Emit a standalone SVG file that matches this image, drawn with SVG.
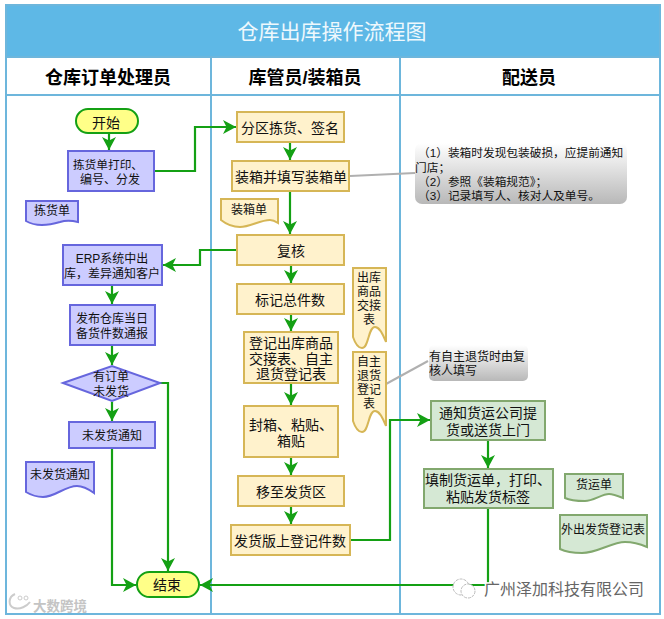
<svg xmlns="http://www.w3.org/2000/svg" width="664" height="619" viewBox="0 0 664 619">
<style>
text{font-family:"Liberation Sans","Noto Sans CJK SC",sans-serif;fill:#111;text-anchor:middle}
.t13{font-size:13px}.t14{font-size:14px}.t12{font-size:12px}.t117{font-size:11.7px}
.h{font-size:18px;font-weight:700;fill:#000}
.frame{fill:none;stroke:#6db6dc;stroke-width:2}
.y{fill:#fff2cc;stroke:#d6b656;stroke-width:2}
.b{fill:#ccccff;stroke:#6666dd;stroke-width:2}
.g{fill:#d5e8d4;stroke:#82a86e;stroke-width:2}
.s{fill:#ffff88;stroke:#14a014;stroke-width:2}
.c{fill:none;stroke:#14a014;stroke-width:2.2}
.n{fill:none;stroke:#b0b0b0;stroke-width:2}
.l{text-anchor:start}
</style>
<defs>
<marker id="a" markerUnits="userSpaceOnUse" markerWidth="15" markerHeight="15" refX="13" refY="7" orient="auto"><path d="M0 0L13 7L0 14L3.5 7Z" fill="#14a014"/></marker>
<linearGradient id="gr" x1="0" y1="0" x2="0" y2="1"><stop offset="0" stop-color="#ffffff"/><stop offset="1" stop-color="#b8b8b8"/></linearGradient>
</defs>
<rect width="664" height="619" fill="#fff"/>
<g id="frame">
<rect x="6" y="5" width="654" height="52" fill="#5eb8e6"/>
<rect x="6" y="5" width="654" height="609" class="frame"/>
<path class="frame" d="M6 57H660M6 95H660M211 57V614M400 57V614"/>
<text x="332" y="39" font-size="21" style="fill:#eef8fd">仓库出库操作流程图</text>
<text class="h" x="108" y="84">仓库订单处理员</text>
<text class="h" x="305" y="84">库管员/装箱员</text>
<text class="h" x="529" y="84">配送员</text>
</g>
<g id="connectors">
<path class="c" marker-end="url(#a)" d="M109 133V150"/>
<path class="c" marker-end="url(#a)" d="M154 171H195V127H236"/>
<path class="c" marker-end="url(#a)" d="M290 142V160"/>
<path class="c" marker-end="url(#a)" d="M290 191V234"/>
<path class="c" marker-end="url(#a)" d="M237 250H200V265H163"/>
<path class="c" marker-end="url(#a)" d="M112 285V304"/>
<path class="c" marker-end="url(#a)" d="M112 345V365"/>
<path class="c" marker-end="url(#a)" d="M112 402V421"/>
<path class="c" marker-end="url(#a)" d="M160 383H168V571"/>
<path class="c" marker-end="url(#a)" d="M112 448V585H136"/>
<path class="c" marker-end="url(#a)" d="M291 265V283"/>
<path class="c" marker-end="url(#a)" d="M291 314V331"/>
<path class="c" marker-end="url(#a)" d="M291 383V405"/>
<path class="c" marker-end="url(#a)" d="M291 457V475"/>
<path class="c" marker-end="url(#a)" d="M291 506V524"/>
<path class="c" marker-end="url(#a)" d="M350 540H390V420H430"/>
<path class="c" marker-end="url(#a)" d="M488 440V468"/>
<path class="c" marker-end="url(#a)" d="M488 508V585H200"/>
<path class="n" d="M350 176L415 173"/>
<path class="n" d="M386 384L428 361"/>
</g>
<g id="start"><rect class="s" x="76" y="109" width="62" height="24" rx="12"/><text class="t14" x="106" y="128">开始</text></g>
<g id="print"><rect class="b" x="68" y="151" width="86" height="40"/><text class="t117" x="108" y="169">拣货单打印、</text><text class="t12" x="110" y="184">编号、分发</text></g>
<g id="doc1"><path class="b" d="M26 201H78V222C70 220 66 220 60 222C50 225 36 227 26 221Z"/><text class="t12" x="52" y="215">拣货单</text></g>
<g id="erp"><rect class="b" x="63" y="245" width="99" height="40"/><text class="t12" x="112" y="263">ERP系统中出</text><text class="t12" x="112" y="278">库，差异通知客户</text></g>
<g id="publish"><rect class="b" x="70" y="305" width="85" height="40"/><text class="t12" x="112" y="323">发布仓库当日</text><text class="t12" x="112" y="338">备货件数通报</text></g>
<g id="decision"><path class="b" d="M63 383L112 366L160 383L112 401Z"/><text class="t12" x="111" y="381">有订单</text><text class="t12" x="111" y="396">未发货</text></g>
<g id="notice"><rect class="b" x="69" y="422" width="86" height="26"/><text class="t12" x="112" y="440">未发货通知</text></g>
<g id="doc2"><path class="b" d="M26 462H94V493C87 488 82 486 77 486C65 486 55 497 43 497C36 497 31 495 26 492Z"/><text class="t12" x="60" y="479">未发货通知</text></g>
<g id="end"><rect class="s" x="137" y="572" width="62" height="25" rx="12.5"/><text class="t14" x="167" y="590">结束</text></g>
<g id="pick"><rect class="y" x="237" y="112" width="107" height="30"/><text class="t14" x="290" y="133">分区拣货、签名</text></g>
<g id="pack"><rect class="y" x="232" y="161" width="117" height="30"/><text class="t14" x="291" y="182">装箱并填写装箱单</text></g>
<g id="doc3"><path class="y" d="M221 199H278V223C275 221 273 220 270 220C260 220 250 227 240 227C232 227 226 224 221 220Z"/><text class="t12" x="249" y="214">装箱单</text></g>
<g id="review"><rect class="y" x="237" y="235" width="107" height="30"/><text class="t14" x="291" y="256">复核</text></g>
<g id="mark"><rect class="y" x="237" y="284" width="107" height="30"/><text class="t14" x="290" y="305">标记总件数</text></g>
<g id="register"><rect class="y" x="244" y="332" width="94" height="51"/><text class="t14" x="291" y="348">登记出库商品</text><text class="t14" x="291" y="364">交接表、自主</text><text class="t14" x="291" y="379">退货登记表</text></g>
<g id="seal"><rect class="y" x="244" y="406" width="94" height="51"/><text class="t14" x="291" y="430">封箱、粘贴、</text><text class="t14" x="291" y="446">箱贴</text></g>
<g id="move"><rect class="y" x="238" y="476" width="106" height="30"/><text class="t14" x="291" y="497">移至发货区</text></g>
<g id="log"><rect class="y" x="231" y="525" width="119" height="30"/><text class="t14" x="290" y="546">发货版上登记件数</text></g>
<g id="doc4"><path class="y" d="M353 268H386V342C382 332 379 327 375 327C368 327 369 348 362 348C358 348 355 343 353 337Z"/><text class="t12" x="369" y="282">出库</text><text class="t12" x="369" y="296">商品</text><text class="t12" x="369" y="310">交接</text><text class="t12" x="369" y="324">表</text></g>
<g id="doc5"><path class="y" d="M353 352H386V426C382 416 379 411 375 411C368 411 369 432 362 432C358 432 355 427 353 421Z"/><text class="t12" x="369" y="366">自主</text><text class="t12" x="369" y="380">退货</text><text class="t12" x="369" y="394">登记</text><text class="t12" x="369" y="408">表</text></g>
<g id="note1"><rect x="415" y="143" width="212" height="61" rx="7" fill="url(#gr)"/><text class="t117 l" x="418" y="157">（1）装箱时发现包装破损，应提前通知</text><text class="t117 l" x="415" y="172">门店；</text><text class="t117 l" x="418" y="186">（2）参照《装箱规范》；</text><text class="t117 l" x="418" y="200">（3）记录填写人、核对人及单号。</text></g>
<g id="note2"><rect x="429" y="345" width="99" height="36" rx="5" fill="url(#gr)"/><text class="t12 l" x="429" y="361">有自主退货时由复</text><text class="t12 l" x="429" y="375">核人填写</text></g>
<g id="notify"><rect class="g" x="431" y="401" width="114" height="39"/><text class="t14" x="488" y="418">通知货运公司提</text><text class="t14" x="488" y="435">货或送货上门</text></g>
<g id="fill"><rect class="g" x="424" y="469" width="129" height="39"/><text class="t14" x="488" y="485">填制货运单，打印、</text><text class="t14" x="488" y="502">粘贴发货标签</text></g>
<g id="doc6"><path class="g" d="M565 474H623V498C618 496 613 494 609 494C602 494 593 501 585 501C578 501 571 501 565 498Z"/><text class="t12" x="594" y="489">货运单</text></g>
<g id="doc7"><path class="g" d="M560 515H647V547C640 544 632 542 625 542C612 542 597 553 582 553C573 553 566 552 560 549Z"/><text class="t12" x="603" y="534">外出发货登记表</text></g>
<g id="watermarks">
<text x="60" y="611" font-size="13.5" font-weight="700" style="fill:#c4c4c4">大数跨境</text>
<path d="M15 594C8 597 8 606 14 608C20 610 27 606 30 602" fill="none" stroke="#ccc" stroke-width="2"/><circle cx="20" cy="598" r="2" fill="none" stroke="#ccc"/><circle cx="26" cy="598" r="2" fill="none" stroke="#ccc"/>
<circle cx="461" cy="587" r="8" fill="#fff" stroke="#bbb" stroke-dasharray="3 1"/><circle cx="468" cy="591" r="7" fill="#fff" stroke="#bbb" stroke-dasharray="3 1"/>
<text class="l" x="484" y="595" font-size="16" stroke="#fff" stroke-width="3" paint-order="stroke" style="fill:#666">广州泽加科技有限公司</text>
</g>
</svg>
